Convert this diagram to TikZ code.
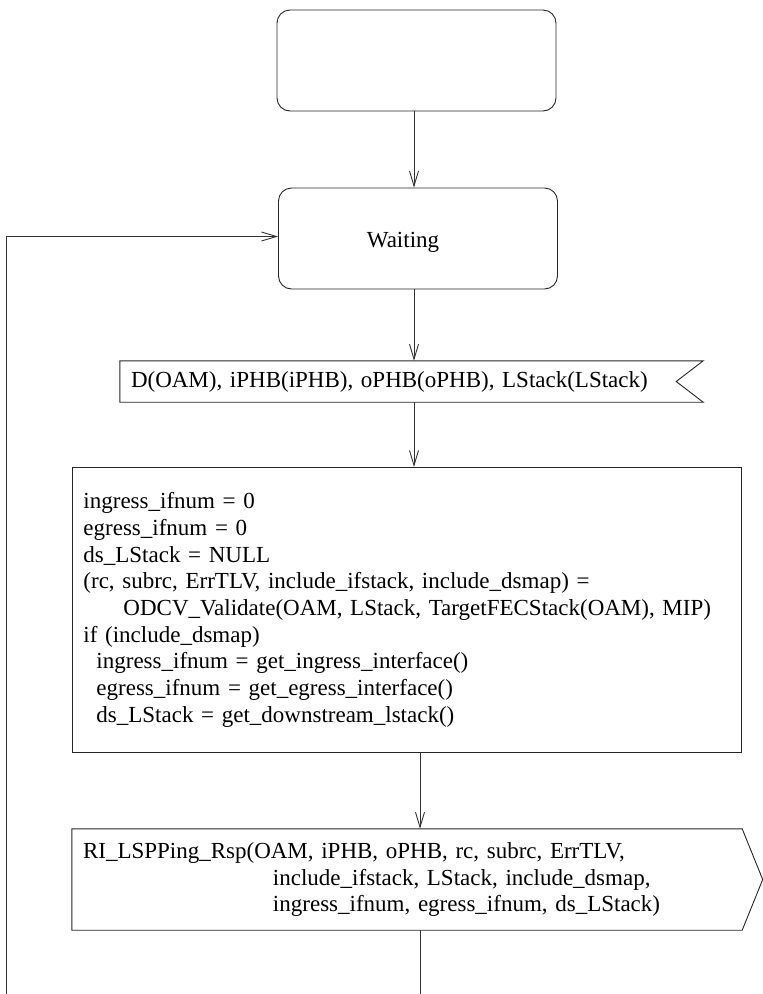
\documentclass[tikz,border=0pt]{standalone}
\usepackage{fontspec}
\setmainfont{Liberation Serif}
\usetikzlibrary{arrows.meta,calc}

\tikzset{
  flowline/.style={draw=black!80, line width=0.9pt},
  arr/.style={flowline, -{Straight Barb[length=15pt,width=9pt,line width=0.9pt]}},
  statebox/.style={draw=black!85, line width=0.9pt, rounded corners=13pt,
    minimum width=279pt, minimum height=101pt, inner sep=0pt},
  taskbox/.style={draw=black!85, line width=0.9pt, inner xsep=11pt, inner ysep=0pt,
    align=left, anchor=north west},
  sigbox/.style={inner xsep=11pt, inner ysep=0pt, align=left},
  sigedge/.style={draw=black!85, line width=0.9pt, line join=miter},
  txt/.style={font=\fontsize{23}{26.7}\selectfont}
}

\begin{document}
\begin{tikzpicture}[x=1pt, y=-1pt, txt]
\useasboundingbox (0,0) rectangle (763,994);

% vertical axes of the flow lines
\coordinate (axA) at (414,0);
\coordinate (axB) at (420,0);

% start state and waiting state
\node[statebox] (start) at (416.5,60.5) {};
\node[statebox] (wait) at (418,238.5) {};
\node (waitlbl) at (403,242) {Waiting};

% input signal with notched right side
\node[sigbox, minimum width=583pt, minimum height=41pt, text width=561pt]
  (insig) at (411.5,381.5) {D(OAM), iPHB(iPHB), oPHB(oPHB), LStack(LStack)};
\draw[sigedge] (insig.north west) -- (insig.north east)
  -- ($(insig.east)+(-27,0)$) -- (insig.south east) -- (insig.south west) -- cycle;

% task box
\node[taskbox, minimum width=669pt, minimum height=285pt, text width=647pt]
  (task) at (72,467) {%
ingress\_ifnum = 0\\
egress\_ifnum = 0\\
ds\_LStack = NULL\\
(rc, subrc, ErrTLV, include\_ifstack, include\_dsmap) =\\
\hspace*{40pt}ODCV\_Validate(OAM, LStack, TargetFECStack(OAM), MIP)\\
if (include\_dsmap)\\
\hspace*{13pt}ingress\_ifnum = get\_ingress\_interface()\\
\hspace*{13pt}egress\_ifnum = get\_egress\_interface()\\
\hspace*{13pt}ds\_LStack = get\_downstream\_lstack()};

% output signal with pointed right side
\node[sigbox, minimum width=670pt, minimum height=101pt, text width=648pt]
  (outsig) at (407,879.5) {%
RI\_LSPPing\_Rsp(OAM, iPHB, oPHB, rc, subrc, ErrTLV,\\
\hspace*{190pt}include\_ifstack, LStack, include\_dsmap,\\
\hspace*{190pt}ingress\_ifnum, egress\_ifnum, ds\_LStack)};
\draw[sigedge] (outsig.north west) -- (outsig.north east)
  -- ($(outsig.east)+(20.5,0)$) -- (outsig.south east) -- (outsig.south west) -- cycle;

% loose ends of the flow
\coordinate (bottom) at (420,994);
\coordinate (loopfoot) at (6,994);
\coordinate (loopcorner) at (6,236.5);

% connectors
\draw[arr] (start.south -| axA) -- (wait.north -| axA);
\draw[arr] (wait.south -| axA) -- (insig.north -| axA);
\draw[arr] (insig.south -| axA) -- (task.north -| axA);
\draw[arr] (task.south -| axB) -- (outsig.north -| axB);
\draw[flowline] (outsig.south -| axB) -- (bottom);
\draw[arr] (loopfoot) -- (loopcorner) -- (loopcorner -| wait.west);
\end{tikzpicture}
\end{document}
